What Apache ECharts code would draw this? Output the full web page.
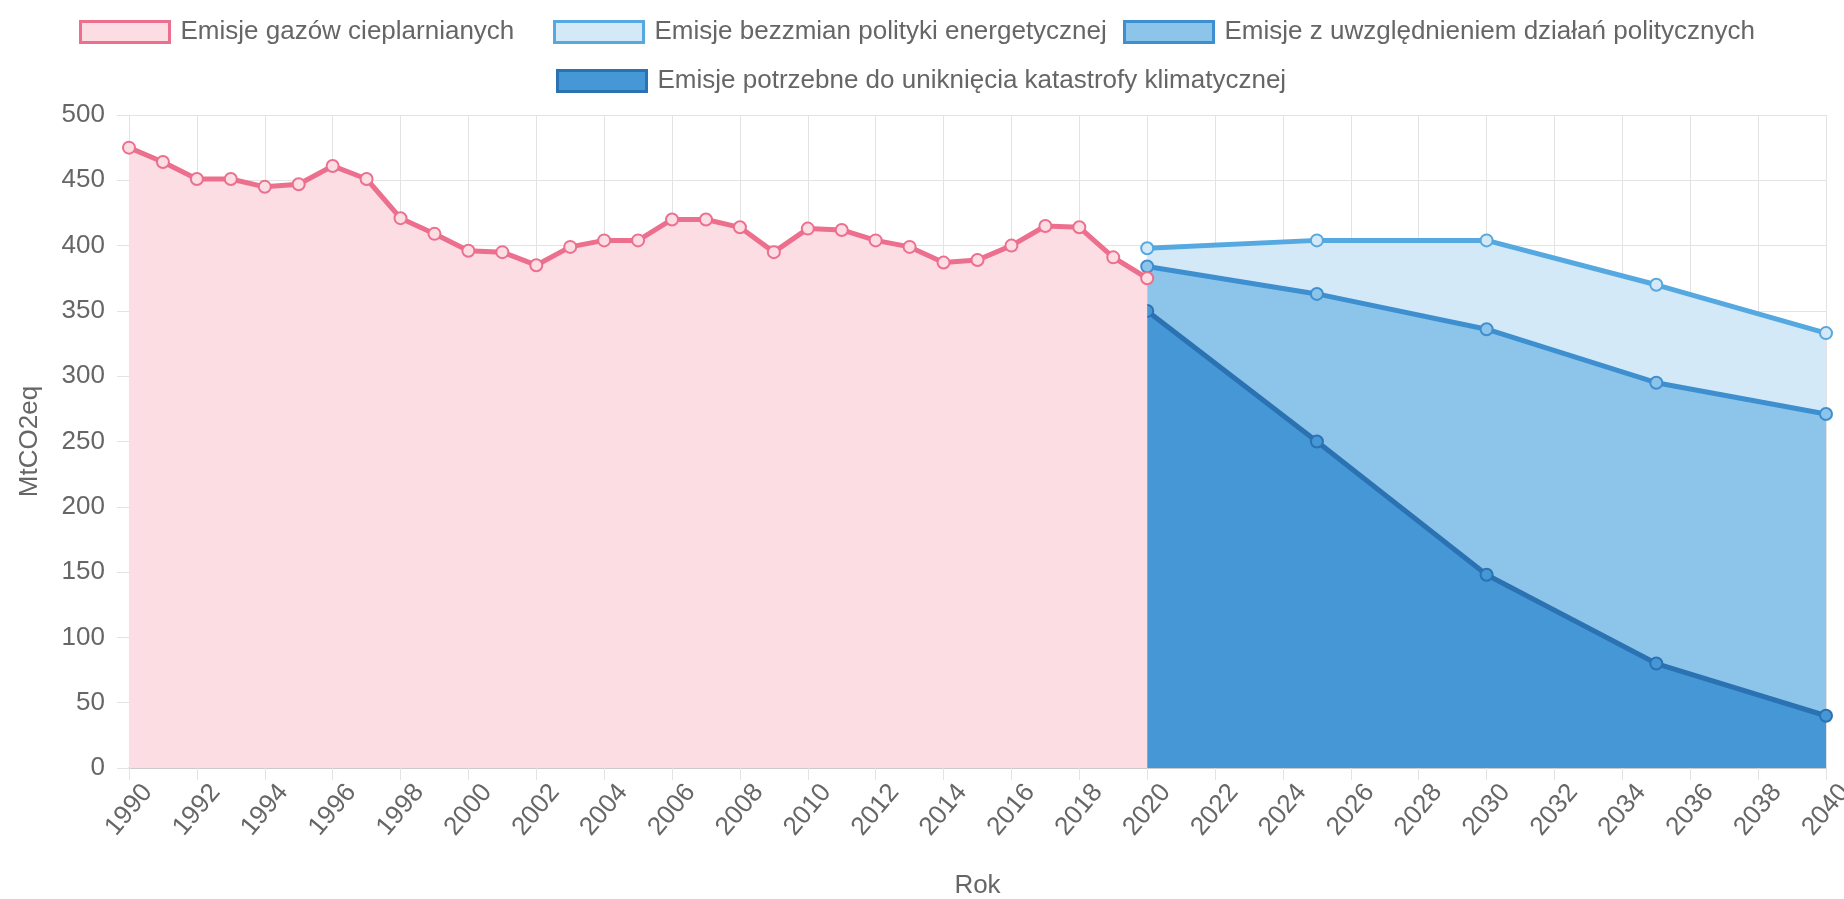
<!DOCTYPE html>
<html>
<head>
<meta charset="utf-8">
<script src="https://cdn.jsdelivr.net/npm/echarts@6/dist/echarts.min.js"></script>
<style>
  html, body { margin: 0; padding: 0; background: #fff; }
  #chart { width: 1844px; height: 899px; }
</style>
</head>
<body>
<div id="chart"></div>
<script>
var histYears = [1990, 1991, 1992, 1993, 1994, 1995, 1996, 1997, 1998, 1999, 2000,
    2001, 2002, 2003, 2004, 2005, 2006, 2007, 2008, 2009, 2010,
    2011, 2012, 2013, 2014, 2015, 2016, 2017, 2018, 2019, 2020];
var histEmissions = [475, 464, 451, 451, 445, 447, 461, 451, 421, 409, 396,
    395, 385, 399, 404, 404, 420, 420, 414, 395, 413,
    412, 404, 399, 387, 389, 400, 415, 414, 391, 375];

var projYears = [2020, 2025, 2030, 2035, 2040];
var noPolicy = [398, 404, 404, 370, 333];
var withPolicy = [384, 363, 336, 295, 271];
var needed = [350, 250, 148, 80, 40];

var names = [
    'Emisje gazów cieplarnianych',
    'Emisje bezzmian polityki energetycznej',
    'Emisje z uwzględnieniem działań politycznych',
    'Emisje potrzebne do uniknięcia katastrofy klimatycznej'
];
var lineColors = ['#ec6f8e', '#55a8e0', '#3e8fd0', '#2a72b2'];
var fillColors = ['#fddde4', '#d4e9f7', '#8cc4ea', '#4697d5'];

var font = 'Liberation Sans, Arial, sans-serif';
var textColor = '#666';
var gridColor = '#e3e3e3';

function pairs(xs, ys) {
    return xs.map(function(x, i) { return [x, ys[i]]; });
}

// one legend per item so each box lands where it is in the picture
function legend(i, left, top) {
    return {
        left: left,
        top: top,
        padding: 0,
        itemWidth: 89,
        itemHeight: 21,
        textStyle: { fontSize: 26, color: textColor, fontFamily: font, padding: [0, 0, 0, 6] },
        data: [{
            name: names[i],
            icon: 'rect',
            itemStyle: { color: fillColors[i], borderColor: lineColors[i], borderWidth: 3 }
        }]
    };
}

function areaSeries(i, data, z) {
    return {
        name: names[i],
        type: 'line',
        data: data,
        z: z,
        symbol: 'circle',
        symbolSize: 12,
        showAllSymbol: true,
        lineStyle: { color: lineColors[i], width: 5 },
        itemStyle: { color: fillColors[i], borderColor: lineColors[i], borderWidth: 2 },
        areaStyle: { color: fillColors[i], opacity: 1 },
        emphasis: { disabled: true },
        animation: false
    };
}

var chart = echarts.init(document.getElementById('chart'));
chart.setOption({
    textStyle: { fontFamily: font },
    legend: [
        legend(0, 79, 19),
        legend(1, 553, 19),
        legend(2, 1123, 19),
        legend(3, 556, 68)
    ],
    grid: { left: 129, right: 18, top: 115, bottom: 131, containLabel: false, outerBoundsMode: 'none' },
    xAxis: {
        type: 'value',
        min: 1990,
        max: 2040,
        interval: 2,
        name: 'Rok',
        nameLocation: 'middle',
        nameGap: 105,
        nameTextStyle: { fontSize: 26, color: textColor, fontFamily: font },
        axisLine: { lineStyle: { color: '#c4c4c4', width: 1.5 } },
        axisTick: { show: true, length: 12, lineStyle: { color: gridColor } },
        axisLabel: {
            rotate: 50,
            align: 'center',
            verticalAlign: 'middle',
            margin: 42,
            fontSize: 26,
            color: textColor,
            fontFamily: font,
            formatter: function(v) { return String(v); }
        },
        splitLine: { show: true, lineStyle: { color: gridColor } }
    },
    yAxis: {
        type: 'value',
        min: 0,
        max: 500,
        interval: 50,
        name: 'MtCO2eq',
        nameLocation: 'middle',
        nameGap: 86,
        nameTextStyle: { fontSize: 26, color: textColor, fontFamily: font },
        axisLine: { show: true, lineStyle: { color: gridColor } },
        axisTick: { show: true, length: 12, lineStyle: { color: gridColor } },
        axisLabel: { margin: 24, fontSize: 26, color: textColor, fontFamily: font },
        splitLine: { show: true, lineStyle: { color: gridColor } }
    },
    series: [
        areaSeries(1, pairs(projYears, noPolicy), 2),
        areaSeries(2, pairs(projYears, withPolicy), 2),
        areaSeries(3, pairs(projYears, needed), 2),
        areaSeries(0, pairs(histYears, histEmissions), 3)
    ]
});
</script>
</body>
</html>
